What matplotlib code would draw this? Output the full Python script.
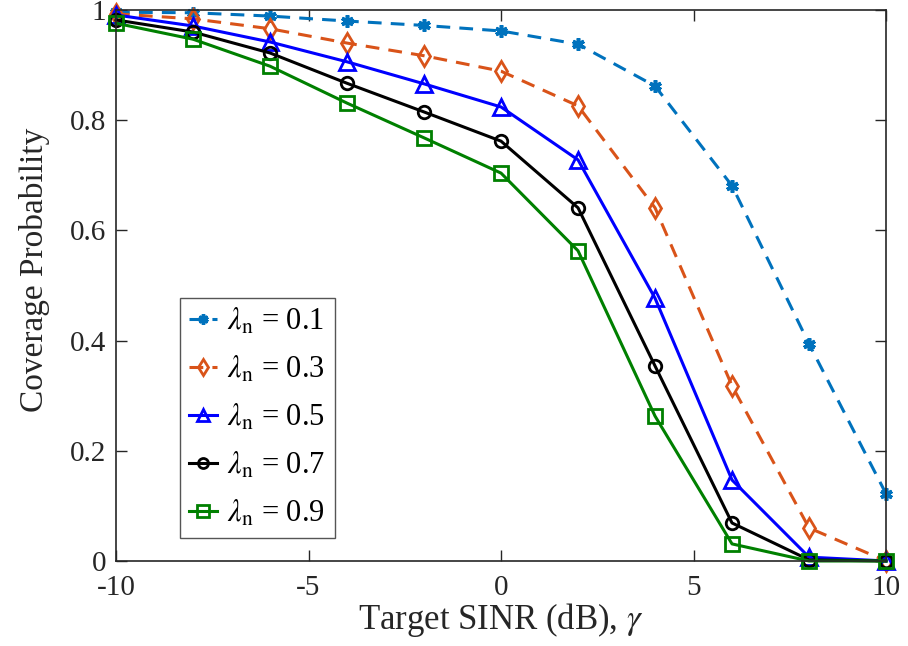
import numpy as np
import matplotlib
matplotlib.use("Agg")
import matplotlib.pyplot as plt

# Target SINR (dB)
gamma_db = [-10, -8, -6, -4, -2, 0, 2, 4, 6, 8, 10]

# Coverage probability for each node density
cov_01 = [0.996, 0.995, 0.989, 0.980, 0.972, 0.962, 0.938, 0.862, 0.681, 0.394, 0.122]
cov_03 = [0.993, 0.984, 0.966, 0.940, 0.917, 0.889, 0.826, 0.641, 0.318, 0.060, 0.000]
cov_05 = [0.991, 0.971, 0.942, 0.906, 0.866, 0.824, 0.728, 0.477, 0.147, 0.007, 0.000]
cov_07 = [0.982, 0.960, 0.922, 0.867, 0.815, 0.762, 0.641, 0.354, 0.069, 0.002, 0.000]
cov_09 = [0.976, 0.947, 0.898, 0.831, 0.768, 0.704, 0.563, 0.263, 0.031, 0.000, 0.000]

lambdas = ["0.1", "0.3", "0.5", "0.7", "0.9"]

plt.rcParams["font.family"] = "Liberation Serif"
plt.rcParams["mathtext.fontset"] = "stix"

fig = plt.figure(figsize=(9.08, 6.46), dpi=100)
ax = fig.add_axes([0.1278, 0.1316, 0.848, 0.8529])

dash = (0, (4.5, 3.0))
styles = [
    dict(color="#0072BD", ls=dash, marker=(6, 2, 0), ms=9, mew=2.6),
    dict(color="#D95319", ls=dash, marker="d", ms=10, mfc="none", mew=2.0),
    dict(color="#0000FF", ls="-", marker="^", ms=11, mfc="none", mew=2.0),
    dict(color="#000000", ls="-", marker="o", ms=9, mfc="none", mew=2.0),
    dict(color="#008000", ls="-", marker="s", ms=10, mfc="none", mew=2.0),
]
series = [cov_01, cov_03, cov_05, cov_07, cov_09]

for lam, vals, st in zip(lambdas, series, styles):
    ax.plot(gamma_db, vals, lw=2.2, label=r"$\lambda_{\mathrm{n}}$ = " + lam,
            clip_on=False, **st)

ax.set_xlim(-10, 10)
ax.set_ylim(0, 1)
ax.set_xticks([-10, -5, 0, 5, 10])
ax.set_xticklabels(["-10", "-5", "0", "5", "10"])
ax.set_yticks([0, 0.2, 0.4, 0.6, 0.8, 1])
ax.set_yticklabels(["0", "0.2", "0.4", "0.6", "0.8", "1"])
ax.tick_params(direction="in", length=8, width=1, labelsize=21,
               top=True, right=True, colors="#262626")
ax.tick_params(axis="x", pad=10)
ax.tick_params(axis="y", pad=7)
for sp in ax.spines.values():
    sp.set_linewidth(1.2)
    sp.set_color("#262626")

ax.set_xlabel(r"Target SINR (dB), $\gamma$", fontsize=25, color="#262626", labelpad=0)
ax.set_ylabel("Coverage Probability", fontsize=24, color="#262626")
ax.yaxis.set_label_coords(-0.086, 0.528)

leg = ax.legend(loc="lower left", bbox_to_anchor=(0.083, 0.042), fontsize=22,
                handlelength=0.9, handletextpad=0.35, borderpad=0.3,
                labelspacing=0.58, fancybox=False, framealpha=1,
                edgecolor="#555555", borderaxespad=0, markerscale=0.8)
leg.get_frame().set_linewidth(1.0)

fig.savefig("out.png", dpi=100)
